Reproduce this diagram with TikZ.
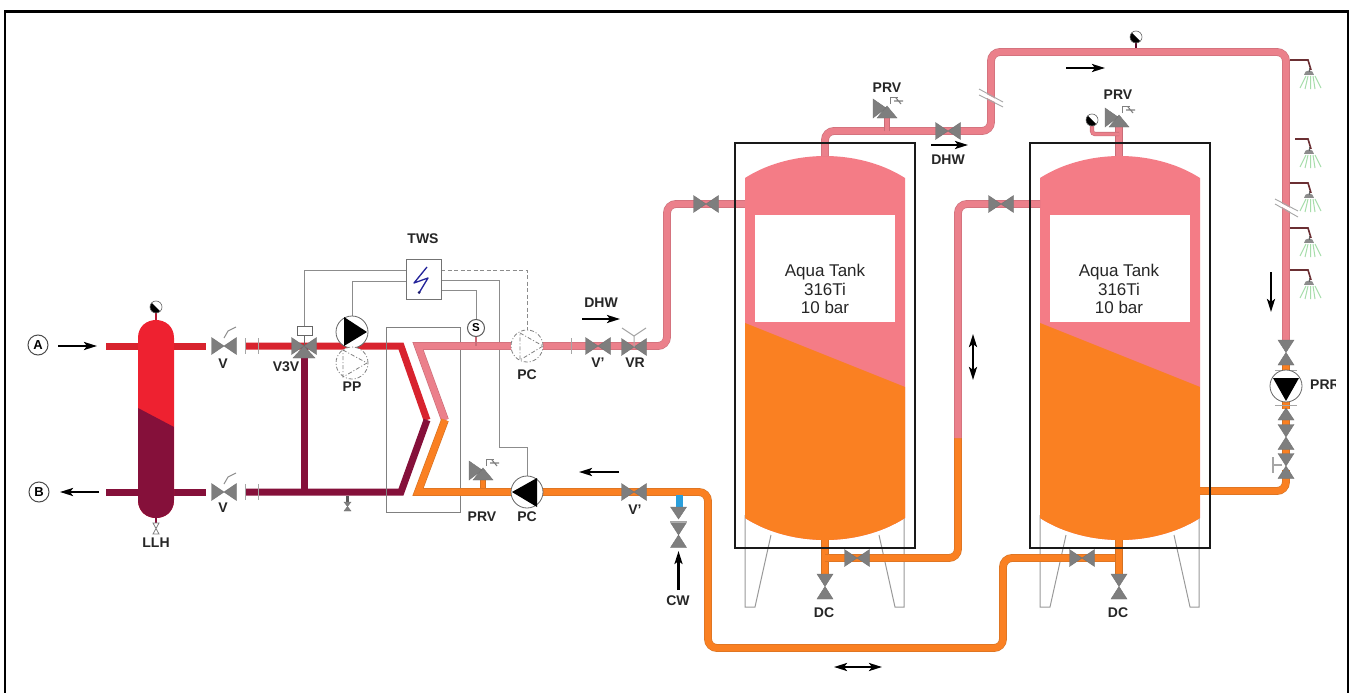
\documentclass[tikz,border=0pt]{standalone}
\usepackage{fontspec}
\setmainfont{Liberation Sans}
\usetikzlibrary{arrows.meta}
\definecolor{cred}{HTML}{D8232E}
\definecolor{credv}{HTML}{EE2130}
\definecolor{cdark}{HTML}{85103A}
\definecolor{cpink}{HTML}{F47C86}
\definecolor{corange}{HTML}{FA8022}
\definecolor{cpipepink}{HTML}{EB808B}
\definecolor{cpinkedge}{HTML}{C96C77}
\definecolor{corangeedge}{HTML}{D27224}
\definecolor{cvalve}{HTML}{7E7E7E}
\definecolor{cwire}{HTML}{8C8C8C}
\definecolor{cblue}{HTML}{2A9FDC}
\definecolor{cgreen}{HTML}{A6DDAA}
\definecolor{cbolt}{HTML}{23239A}
\definecolor{carm}{HTML}{6B2F33}
\tikzset{
  x=1pt,y=-1pt,
  redpipe/.style={draw=cred,line width=7pt},
  darkpipe/.style={draw=cdark,line width=7pt},
  pinkpipe/.style={draw=cpinkedge,double=cpipepink,double distance=6.6pt,line width=.6pt,rounded corners=9pt},
  orangepipe/.style={draw=corangeedge,double=corange,double distance=6.6pt,line width=.6pt,rounded corners=9pt},
  wire/.style={draw=cwire,line width=1pt},
  dashwire/.style={draw=cwire,line width=1pt,dash pattern=on 4pt off 2.5pt},
  flow/.style={draw=black,line width=2.4pt,-{Stealth[length=13pt,width=8pt,inset=3pt]}},
  flowboth/.style={draw=black,line width=2.4pt,{Stealth[length=13pt,width=8pt,inset=3pt]}-{Stealth[length=13pt,width=8pt,inset=3pt]}},
  tag/.style={font=\fontsize{14}{15}\selectfont\bfseries,text=black!85,inner sep=0pt},
  tanktext/.style={font=\fontsize{17}{18.5}\selectfont,align=center,text=black!85,inner sep=0pt},
  frameline/.style={draw=black,line width=2.6pt},
  tankframe/.style={draw=black!90,line width=1.8pt},
  legline/.style={draw=black!40,line width=1pt},
  hxbox/.style={draw=black!50,line width=1pt},
  vfill/.style={fill=cvalve,draw=black!55,line width=.4pt},
  tick/.style={draw=black!35,line width=1pt},
  breakline/.style={draw=black!35,line width=.9pt},
  pumpring/.style={circle,draw=black!60,fill=white,line width=.8pt,minimum size=32pt,inner sep=0pt},
  ghostring/.style={circle,draw=black!50,fill=white,line width=.8pt,dash pattern=on 4pt off 2pt on 1pt off 2pt,minimum size=32pt,inner sep=0pt},
  ghosttri/.style={draw=black!50,line width=.8pt,dash pattern=on 4pt off 2pt on 1pt off 2pt},
  roundtag/.style={circle,draw=black!70,fill=white,line width=1pt,minimum size=20pt,inner sep=0pt,font=\fontsize{13}{14}\selectfont\bfseries},
  bowtie/.pic={\path[vfill] (-12.5,-8.5)--(0,0)--(-12.5,8.5)--cycle (12.5,-8.5)--(0,0)--(12.5,8.5)--cycle;},
  bowv/.pic={\path[vfill] (-8,-12.5)--(8,-12.5)--(0,0)--cycle (-8,12.5)--(8,12.5)--(0,0)--cycle;},
  gaugepic/.pic={\fill[white] (0,0) circle (6pt);
     \begin{scope}\clip (0,0) circle (6pt);\fill[black] (-7,-7)--(7,7)--(-7,7)--cycle;\end{scope}
     \draw[black!60,line width=.6pt] (0,0) circle (6pt);},
  prvpic/.pic={\path[vfill] (-10,0)--(10,0)--(0,-12)--cycle (-14,-19)--(-1,-10)--(-14,0)--cycle;
     \draw[black!50,line width=.8pt] (3,-14)--(3,-21)--(11,-21);
     \draw[black!50,line width=1.1pt] (7,-17)--(16,-17) (9,-20)--(14,-14);},
  showerpic/.pic={\draw[carm,line width=1.6pt] (-18,0)--(0,0)--(3,10);
     \fill[black!45] (-4,15) .. controls (-4,9) and (6,9) .. (6,15) -- cycle;
     \draw[black!60,line width=.8pt] (1,8)--(1,12);
     \draw[cgreen,line width=1pt] (-2,16)--(-8,28) (0,16)--(-3,29) (2.5,16)--(2.5,29) (5,16)--(7,29) (7,16)--(13,28);},
}
\begin{document}
\begin{tikzpicture}
\useasboundingbox (0,0) rectangle (1352,693);
\fill[white] (0,0) rectangle (1352,693);
% outer frame
\draw[frameline] (5,693)--(5,11.5)--(1348,11.5)--(1348,693);

% ---- tank legs
\foreach \d in {0,295}{
  \begin{scope}[xshift=\d pt]
  \draw[legline] (745,515)--(745,607)--(755,607)--(771,535);
  \draw[legline] (904,515)--(904,607)--(895,607)--(879,535);
  \end{scope}
}

% ---- coordinates
\coordinate (LLHa) at (156,346);
\coordinate (LLHb) at (156,492);
\coordinate (V3) at (304,346);
\coordinate (HXtip) at (427,420);
\coordinate (HCtip) at (445,420);
\coordinate (PCt) at (527,346);
\coordinate (PCb) at (527,492);

% ---- primary pipes
\draw[redpipe] (106,346)--(206,346);
\draw[redpipe] (245,346)--(401,346)--(HXtip);
\draw[darkpipe] (HXtip)--(401,492)--(245,492);
\draw[darkpipe] (106,492)--(206,492);
\draw[darkpipe] (V3)--(304,492);
\draw[tick] (245,338)--(245,354) (258,338)--(258,354) (245,484)--(245,500) (258,484)--(258,500);

% ---- LLH vessel
\draw[cdark,line width=2.5pt] (156,518)--(156,523);
\begin{scope}
  \clip (138,338) .. controls (138,326) and (147,320) .. (156,320) .. controls (165,320) and (174,326) .. (174,338)
    -- (174,500) .. controls (174,512) and (165,518) .. (156,518) .. controls (147,518) and (138,512) .. (138,500) -- cycle;
  \fill[credv] (130,315) rectangle (180,525);
  \fill[cdark] (138,408)--(174,427)--(174,525)--(138,525)--cycle;
\end{scope}
\draw[cdark!40!cred,line width=2pt] (156,313)--(156,320);
\pic (gllh) at (156,307) {gaugepic};
\draw[black!50,fill=white,line width=.8pt] (153,523)--(159,523)--(153,534)--(159,534)--cycle;
\node[tag] (lLLH) at (156,543) {LLH};

% ---- heat exchanger and control wires
\draw[hxbox] (386,327) rectangle (460,512);
\draw[wire] (304,326)--(304,270)--(406,270);
\draw[wire] (352,316)--(352,281)--(406,281);
\draw[wire] (441,280)--(499,280)--(499,447)--(527,447)--(527,478);
\draw[wire] (441,290)--(476,290)--(476,322);
\draw[dashwire] (441,270)--(527,270)--(527,331);
\node[draw=black!55,fill=white,line width=1pt,minimum width=35pt,minimum height=40pt,inner sep=0pt] (tws) at (423.5,279) {};
\draw[cbolt,line width=1.3pt,line join=round] (427,267)--(414,283)--(428,278)--(419,293);
\fill[cbolt!70!black] (419,292.5) circle (1.5pt);
\node[tag] (lTWS) at (423,239) {TWS};

% ---- secondary pipes
\draw[pinkpipe,rounded corners=0pt,line join=miter] (PCt)--(418,346)--(HCtip);
\draw[orangepipe,rounded corners=0pt,line join=miter] (HCtip)--(418,492)--(PCb);
\draw[pinkpipe] (PCt)--(667,346)--(667,204)--(745,204);
\draw[orangepipe] (PCb)--(708,492)--(708,648)--(1003,648)--(1003,558)--(1119,558);
\draw[tick] (571,338)--(571,354);
\draw[cpinkedge,line width=1.6pt] (476,336)--(476,346);
\node[circle,draw=black!65,fill=white,line width=1pt,minimum size=17pt,inner sep=0pt,font=\fontsize{11.5}{13}\selectfont\bfseries] (sens) at (476,328) {S};

% ---- tanks
\foreach \d in {0,295}{
  \begin{scope}[xshift=\d pt]
  \path[clip] (745,178) .. controls (770,162) and (800,156) .. (825,156) .. controls (850,156) and (880,162) .. (905,178)
     -- (905,518) .. controls (880,534) and (850,540) .. (825,540) .. controls (800,540) and (770,534) .. (745,518) -- cycle;
  \fill[cpink] (740,150) rectangle (910,545);
  \fill[corange] (745,323)--(905,387)--(905,545)--(745,545)--cycle;
  \fill[white] (754.5,215) rectangle (895,322);
  \end{scope}
}
\node[tanktext] (T1) at (825,289) {Aqua Tank\\316Ti\\10 bar};
\node[tanktext] (T2) at (1119,289) {Aqua Tank\\316Ti\\10 bar};

% ---- tank piping
\draw[pinkpipe] (825,156)--(825,131)--(991,131)--(991,52)--(1286,52)--(1286,345);
\draw[orangepipe] (825,540)--(825,574);
\draw[orangepipe] (825,558)--(958,558)--(958,438);
\draw[pinkpipe] (958,438)--(958,204)--(1040,204);
\draw[pinkpipe] (1119,156)--(1119,125);
\draw[pinkpipe,double distance=3pt,rounded corners=3pt] (1092,125)--(1092,134)--(1119,134);
\draw[pinkpipe,double distance=4pt,rounded corners=0pt] (887,131)--(887,118);
\draw[orangepipe,double distance=4pt,rounded corners=0pt] (483,488)--(483,480);
\draw[orangepipe] (1119,540)--(1119,574);
\draw[orangepipe] (1200,491)--(1286,491)--(1286,470);
\draw[orangepipe,rounded corners=0pt] (1286,364)--(1286,372) (1286,400)--(1286,409) (1286,419)--(1286,426) (1286,448)--(1286,454);
\draw[tick] (1275,370)--(1297,370) (1275,405)--(1297,405) (670,521)--(687,521);

% ---- frames over tanks
\draw[tankframe] (735,143) rectangle (915,548);
\draw[tankframe] (1030,143) rectangle (1210,548);

% ---- breaks in the long pipes
\fill[white] (979,90)--(1003,103)--(1003,106)--(979,94)--cycle;
\draw[breakline] (979,89)--(1003,102) (979,95)--(1003,107);
\fill[white] (1275,200)--(1298,212)--(1298,216)--(1275,203)--cycle;
\draw[breakline] (1275,199)--(1298,211) (1275,204)--(1298,217);

% ---- valves (horizontal)
\foreach \x/\y/\n in {224/346/v1,224/492/v2,598/346/v3,634/492/v4,706/204/v5,948/131/v6,1001/204/v7,857/558/v8,1082/558/v9,634/347/vr,304/346/v3v}{
  \pic (\n) at (\x,\y) {bowtie};
}
\draw[black!45,line width=1pt] (224,338)--(228,331)--(236,327) (224,484)--(228,477)--(236,473);
\draw[black!35,line width=1pt] (634,347)--(634,336)--(622,328) (634,336)--(646,328);
\path[vfill] (304,346)--(293,358)--(315,358)--cycle;
\draw[black!60,line width=.8pt] (304,335)--(304,346);
\draw[black!60,fill=white,line width=.8pt] (297,326) rectangle (312,335);

% ---- valves (vertical)
\foreach \x/\y/\n in {825/586.5/d1,1119/586.5/d2,678.5/535/d3,1286/352.5/r1,1286/437/r2,1286/466/r3}{
  \pic (\n) at (\x,\y) {bowv};
}
\path[vfill] (1278,420)--(1294,420)--(1286,408)--cycle;
\draw[black!35,line width=1.2pt] (1273,457)--(1273,473) (1273,465)--(1282,465);

% ---- cold water branch
\fill[cblue] (675.5,495) rectangle (682.5,507);
\path[vfill] (670.5,507)--(686.5,507)--(678.5,519)--cycle;
\draw[flow] (678.5,590)--(678.5,551);

% ---- drain on the return pipe
\fill[black!65] (346,496) rectangle (349,502);
\path[vfill] (344,502)--(351,502)--(347.5,506.5)--cycle (344,511)--(351,511)--(347.5,506.5)--cycle;

% ---- PRV
\pic (prv1) at (483,480) {prvpic};
\pic (prv2) at (887,118) {prvpic};
\pic (prv3) at (1119,127) {prvpic};

% ---- gauges
\draw[cdark!70!black,line width=2pt] (1136,42)--(1136,48);
\pic (g2) at (1136,37) {gaugepic};
\pic (g3) at (1092,120) {gaugepic};

% ---- pumps
\node[pumpring] (pp) at (352,332) {};
\fill[black] (344,317)--(367,332)--(344,346)--cycle;
\node[ghostring] (ppg) at (352,363) {};
\draw[ghosttri] (343,350)--(367,363)--(343,377)--cycle;
\node[ghostring] (pct) at (PCt) {};
\draw[ghosttri] (520,333)--(543,346)--(520,360)--cycle;
\node[pumpring] (pcb) at (PCb) {};
\fill[black] (512,492)--(537,478)--(537,507)--cycle;
\node[pumpring] (prr) at (1286,386) {};
\fill[black] (1273,378)--(1299,378)--(1286,401)--cycle;

% ---- showers
\foreach \y/\n in {60/s1,183/s3,228/s4,270/s5}{
  \pic (\n) at (1308,\y) {showerpic};
}
\begin{scope}
  \clip (1295,130) rectangle (1330,175);
  \pic (s2) at (1308,139) {showerpic};
\end{scope}

% ---- flow arrows
\node[roundtag] (A) at (38,345) {A};
\node[roundtag] (B) at (39,492) {B};
\draw[flow] (58,346)--(97,346);
\draw[flow] (99,492)--(60,492);
\draw[flow] (582,319)--(620,319);
\draw[flow] (619,472)--(579,472);
\draw[flow] (931,145)--(968,145);
\draw[flow] (1066,68)--(1105,68);
\draw[flow] (1271,272)--(1271,312);
\draw[flowboth] (973,334)--(973,380);
\draw[flowboth] (834,667)--(882,667);

% ---- labels
\node[tag] (lV1) at (223,364) {V};
\node[tag] (lV2) at (223,508) {V};
\node[tag] (lV3V) at (286,367) {V3V};
\node[tag] (lPP) at (352,387) {PP};
\node[tag] (lDHW1) at (601,303) {DHW};
\node[tag] (lVp1) at (598,363) {V'};
\node[tag] (lVR) at (635,363) {VR};
\node[tag] (lPC1) at (527,375) {PC};
\node[tag] (lPRV1) at (482,517) {PRV};
\node[tag] (lPC2) at (527,517) {PC};
\node[tag] (lVp2) at (635,510) {V'};
\node[tag] (lCW) at (678,601) {CW};
\node[tag] (lDC1) at (824,613) {DC};
\node[tag] (lDC2) at (1118,613) {DC};
\node[tag] (lPRV2) at (887,88) {PRV};
\node[tag] (lPRV3) at (1118,95) {PRV};
\node[tag] (lDHW2) at (948,160) {DHW};
\begin{scope}
  \clip (1305,370) rectangle (1335,400);
  \node[tag,anchor=west] (lPRR) at (1310,385) {PRR};
\end{scope}
\end{tikzpicture}
\end{document}
